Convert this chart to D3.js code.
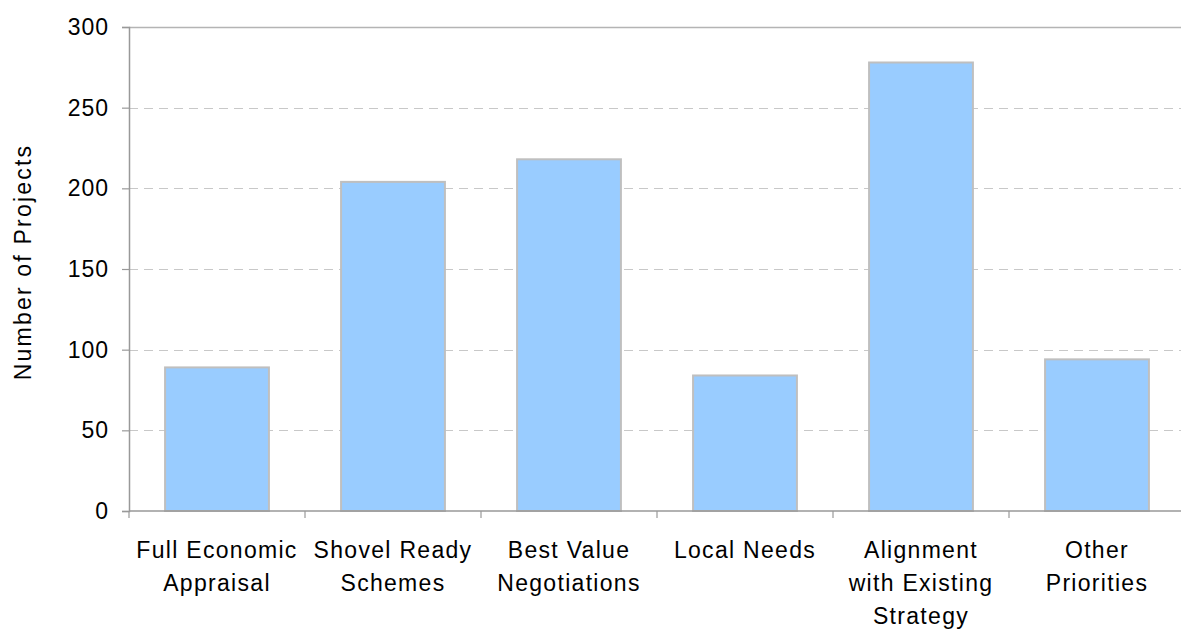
<!DOCTYPE html>
<html>
<head>
<meta charset="utf-8">
<script src="https://cdn.jsdelivr.net/npm/d3@7"></script>
<style>
  html, body { margin: 0; padding: 0; background: #fff; }
  svg { display: block; }
  text { font-family: "Liberation Sans", Arial, sans-serif; fill: #000; }
</style>
</head>
<body>
<svg id="chart" width="1181" height="630"></svg>
<script>
// Projects by selection criterion
const categories = [
  ["Full Economic", "Appraisal"],
  ["Shovel Ready", "Schemes"],
  ["Best Value", "Negotiations"],
  ["Local Needs"],
  ["Alignment", "with Existing", "Strategy"],
  ["Other", "Priorities"]
];
const projectCounts = [89, 204, 218, 84, 278, 94];
const yTicks = [0, 50, 100, 150, 200, 250, 300];

const svg = d3.select("#chart");
const margin = { left: 129, top: 27, right: 1185, bottom: 511 };
const fontSize = 23;

const x = d3.scaleBand()
  .domain(d3.range(categories.length))
  .range([margin.left, margin.right])
  .paddingInner(0.41)
  .paddingOuter(0.205);

const y = d3.scaleLinear()
  .domain([0, 300])
  .range([margin.bottom, margin.top]);

// horizontal grid lines (dashed), top line solid
svg.append("g")
  .selectAll("line")
  .data(yTicks.filter(t => t > 0))
  .join("line")
  .attr("x1", margin.left)
  .attr("x2", margin.right)
  .attr("y1", d => Math.round(y(d)) + 0.5)
  .attr("y2", d => Math.round(y(d)) + 0.5)
  .attr("stroke", d => d === 300 ? "#b4b4b4" : "#c8c8c8")
  .attr("stroke-width", d => d === 300 ? 1.5 : 1)
  .attr("stroke-dasharray", d => d === 300 ? null : "9,6");

// bars
svg.append("g")
  .selectAll("rect")
  .data(projectCounts)
  .join("rect")
  .attr("x", (d, i) => x(i))
  .attr("width", x.bandwidth())
  .attr("y", d => y(d))
  .attr("height", d => y(0) - y(d))
  .attr("fill", "#99ccff")
  .attr("stroke", "#bfbfbf")
  .attr("stroke-width", 2);

// y axis
const yAxis = d3.axisLeft(y)
  .tickValues(yTicks)
  .tickSize(7)
  .tickPadding(13);
const gy = svg.append("g")
  .attr("transform", `translate(${margin.left},0)`)
  .call(yAxis);
gy.select(".domain").attr("stroke", "#999").attr("stroke-width", 1.5);
gy.selectAll(".tick line").attr("stroke", "#999").attr("stroke-width", 1.2);
gy.selectAll(".tick text")
  .attr("font-size", fontSize)
  .attr("letter-spacing", "1px")
  .attr("font-family", "Liberation Sans, Arial, sans-serif")
  .attr("fill", "#000");

// x axis: boundary ticks between categories
const boundaries = d3.range(categories.length + 1).map(i => margin.left + i * x.step());
const gx = svg.append("g");
gx.append("line")
  .attr("x1", margin.left).attr("x2", margin.right)
  .attr("y1", margin.bottom).attr("y2", margin.bottom)
  .attr("stroke", "#999").attr("stroke-width", 1.5);
gx.selectAll("line.b")
  .data(boundaries)
  .join("line")
  .attr("class", "b")
  .attr("x1", d => d).attr("x2", d => d)
  .attr("y1", margin.bottom).attr("y2", margin.bottom + 7)
  .attr("stroke", "#999").attr("stroke-width", 1.2);

// category labels
const lineHeight = 33;
gx.selectAll("text")
  .data(categories)
  .join("text")
  .attr("text-anchor", "middle")
  .attr("font-size", fontSize)
  .attr("letter-spacing", "1.3px")
  .each(function(lines, i) {
    const cx = x(i) + x.bandwidth() / 2;
    d3.select(this).selectAll("tspan")
      .data(lines)
      .join("tspan")
      .attr("x", cx)
      .attr("y", (d, j) => 558 + j * lineHeight)
      .text(d => d);
  });

// y axis title
svg.append("text")
  .attr("transform", "translate(31,262) rotate(-90)")
  .attr("text-anchor", "middle")
  .attr("font-size", fontSize)
  .attr("letter-spacing", "2.2px")
  .text("Number of Projects");
</script>
</body>
</html>
